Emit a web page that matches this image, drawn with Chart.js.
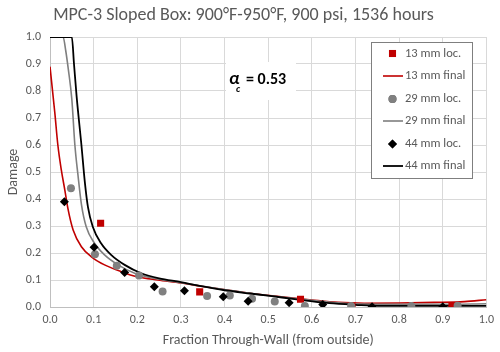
<!DOCTYPE html>
<html><head><meta charset="utf-8">
<script src="https://cdn.jsdelivr.net/npm/chart.js@4.4.0/dist/chart.umd.min.js"></script>
<style>html,body{margin:0;padding:0;background:#fff;overflow:hidden;}</style>
</head><body>
<canvas id="c" width="500" height="352"></canvas>
<script>
const chartTitle = 'MPC-3 Sloped Box: 900°F-950°F, 900 psi, 1536 hours';
const xAxisTitle = 'Fraction Through-Wall (from outside)';
const yAxisTitle = 'Damage';
const xTickLabels = ['0.0','0.1','0.2','0.3','0.4','0.5','0.6','0.7','0.8','0.9','1.0'];
const yTickLabels = ['0.0','0.1','0.2','0.3','0.4','0.5','0.6','0.7','0.8','0.9','1.0'];
const seriesNames = ['13 mm loc.','13 mm final','29 mm loc.','29 mm final','44 mm loc.','44 mm final'];
const annotationText = ['α', 'c', '= 0.53'];

const loc13X = [0.116, 0.343, 0.574, 0.692, 0.921];
const loc13Y = [0.31, 0.056, 0.029, 0.003, 0.003];
const final13X = [0, 0.011, 0.018, 0.026, 0.034, 0.041, 0.053, 0.072, 0.095, 0.125, 0.163, 0.2, 0.247, 0.3, 0.35, 0.41, 0.47, 0.53, 0.6, 0.66, 0.72, 0.8, 0.88, 0.95, 1.0];
const final13Y = [0.89, 0.72, 0.6, 0.507, 0.433, 0.365, 0.285, 0.223, 0.186, 0.156, 0.131, 0.112, 0.1, 0.089, 0.076, 0.062, 0.048, 0.038, 0.026, 0.017, 0.014, 0.015, 0.017, 0.02, 0.027];

const loc29X = [0.048, 0.103, 0.153, 0.204, 0.258, 0.36, 0.412, 0.463, 0.515, 0.584, 0.69, 0.828, 0.934];
const loc29Y = [0.44, 0.195, 0.153, 0.117, 0.057, 0.041, 0.043, 0.031, 0.02, 0.004, 0.004, 0.004, 0.005];
const final29X = [0, 0.03, 0.036, 0.042, 0.05, 0.057, 0.064, 0.072, 0.083, 0.102, 0.125, 0.156, 0.194, 0.247, 0.3, 0.35, 0.41, 0.47, 0.53, 0.6, 0.66, 0.72, 0.8, 0.9, 1.0];
const final29Y = [1, 1, 0.95, 0.88, 0.77, 0.6, 0.49, 0.38, 0.297, 0.236, 0.193, 0.156, 0.125, 0.104, 0.09, 0.077, 0.062, 0.048, 0.037, 0.025, 0.016, 0.011, 0.01, 0.01, 0.012];

const loc44X = [0.033, 0.101, 0.171, 0.239, 0.308, 0.397, 0.454, 0.548, 0.625, 0.738, 0.9];
const loc44Y = [0.39, 0.221, 0.128, 0.075, 0.06, 0.038, 0.021, 0.016, 0.009, 0.001, 0.001];
const final44X = [0, 0.05, 0.055, 0.061, 0.072, 0.08, 0.087, 0.098, 0.117, 0.14, 0.171, 0.209, 0.25, 0.3, 0.343, 0.4, 0.458, 0.5, 0.565, 0.64, 0.7, 0.76, 0.85, 1.0];
const final44Y = [1, 1, 0.9, 0.78, 0.6, 0.46, 0.37, 0.297, 0.236, 0.193, 0.156, 0.125, 0.106, 0.092, 0.078, 0.062, 0.05, 0.042, 0.028, 0.014, 0.008, 0.004, 0.004, 0.004];

const pts = (xs, ys) => xs.map((x, i) => ({x: x, y: ys[i]}));
const FONT = 'Carlito, Lato, sans-serif';
const TXT = '#595959';

function markerSet(label, xs, ys, color, style, r, order) {
  return {label, data: pts(xs, ys), showLine: false, pointStyle: style, pointRadius: r,
    pointHoverRadius: r, pointBackgroundColor: color, pointBorderColor: color, pointBorderWidth: 0,
    backgroundColor: color, borderColor: color, order};
}
function lineSet(label, xs, ys, color, w, order) {
  return {label, data: pts(xs, ys), showLine: true, pointRadius: 0, pointHoverRadius: 0,
    borderColor: color, backgroundColor: color, borderWidth: w, cubicInterpolationMode: 'monotone',
    fill: false, order};
}

const datasets = [
  markerSet(seriesNames[0], loc13X, loc13Y, '#C00000', 'rect', 5, 2),
  lineSet(seriesNames[1], final13X, final13Y, '#C00000', 1.6, 12),
  markerSet(seriesNames[2], loc29X, loc29Y, '#808080', 'circle', 4, 1),
  lineSet(seriesNames[3], final29X, final29Y, '#7F7F7F', 1.6, 11),
  markerSet(seriesNames[4], loc44X, loc44Y, '#000000', 'rectRot', 4.5, 0),
  lineSet(seriesNames[5], final44X, final44Y, '#000000', 1.8, 10),
];

const legendBox = {
  id: 'legendBox',
  afterDraw(chart) {
    const ctx = chart.ctx;
    const x0 = 371, y0 = 42, w = 101, h = 136;
    ctx.save();
    ctx.fillStyle = '#fff';
    ctx.fillRect(x0, y0, w, h);
    ctx.strokeStyle = '#7f7f7f';
    ctx.lineWidth = 1;
    ctx.strokeRect(x0 + 0.5, y0 + 0.5, w, h);
    const rows = [53.5, 76, 99, 121, 144, 166];
    datasets.forEach((ds, i) => {
      const cy = rows[i];
      if (ds.showLine) {
        ctx.strokeStyle = ds.borderColor;
        ctx.lineWidth = ds.borderWidth;
        ctx.beginPath(); ctx.moveTo(383, cy); ctx.lineTo(403, cy); ctx.stroke();
      } else {
        Chart.helpers.drawPoint(ctx, {pointStyle: ds.pointStyle, radius: ds.pointRadius, borderWidth: 0, rotation: 0}, 392.5, cy);
        ctx.fillStyle = ds.pointBackgroundColor;
        ctx.fill();
      }
      ctx.fillStyle = TXT;
      ctx.font = '12.5px ' + FONT;
      ctx.textBaseline = 'middle';
      ctx.textAlign = 'left';
      ctx.fillText(ds.label, 405, cy);
    });
    ctx.restore();
  }
};

const annot = {
  id: 'annot',
  afterDraw(chart) {
    const ctx = chart.ctx;
    ctx.save();
    ctx.fillStyle = '#fff';
    ctx.fillRect(226, 62, 70, 38);
    ctx.fillStyle = '#000';
    ctx.textBaseline = 'alphabetic';
    ctx.textAlign = 'left';
    ctx.font = 'italic bold 18px ' + FONT;
    ctx.fillText(annotationText[0], 229, 84);
    ctx.font = 'italic bold 10px ' + FONT;
    ctx.fillText(annotationText[1], 236, 92);
    ctx.font = 'bold 16px ' + FONT;
    ctx.fillText(annotationText[2], 246, 84);
    ctx.restore();
  }
};

new Chart(document.getElementById('c'), {
  type: 'scatter',
  data: {datasets},
  options: {
    responsive: false,
    animation: false,
    devicePixelRatio: 1,
    layout: {padding: {left: 0, right: 13, top: 0, bottom: 0}},
    plugins: {
      legend: {display: false},
      tooltip: {enabled: false},
      title: {display: true, text: chartTitle, color: TXT,
        font: {family: FONT, size: 18, weight: 'normal'}, padding: {top: 5, bottom: 10.4}}
    },
    scales: {
      x: {
        type: 'linear', min: 0, max: 1,
        afterFit: s => { s.height = 45; },
        ticks: {stepSize: 0.1, color: TXT, font: {family: FONT, size: 12}, padding: 6,
          maxRotation: 0, autoSkip: false,
          callback: (v, i) => xTickLabels[i]},
        grid: {color: '#d9d9d9', drawTicks: false, lineWidth: 1},
        border: {color: '#bfbfbf', width: 1},
        title: {display: true, text: xAxisTitle, color: TXT, font: {family: FONT, size: 14}, padding: {top: 0, bottom: 3}}
      },
      y: {
        type: 'linear', min: 0, max: 1,
        afterFit: s => { s.width = 50; },
        ticks: {stepSize: 0.1, color: TXT, font: {family: FONT, size: 12}, padding: 9,
          autoSkip: false,
          callback: (v, i) => yTickLabels[i]},
        grid: {color: '#d9d9d9', drawTicks: false, lineWidth: 1},
        border: {color: '#bfbfbf', width: 1},
        title: {display: true, text: yAxisTitle, color: TXT, font: {family: FONT, size: 14}, padding: {top: 5, bottom: 0}}
      }
    }
  },
  plugins: [annot, legendBox]
});
</script>
</body></html>
